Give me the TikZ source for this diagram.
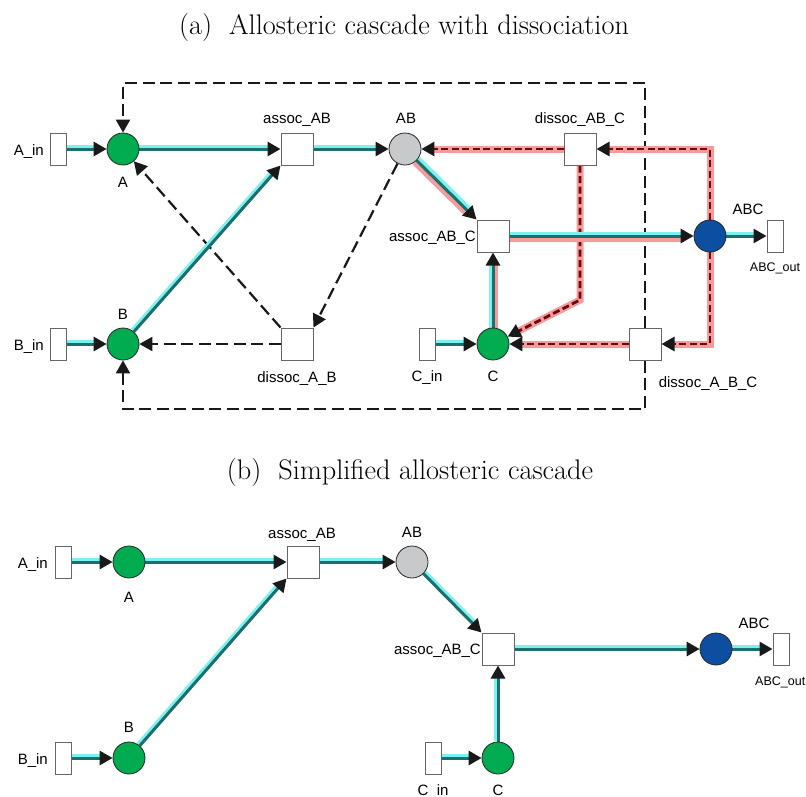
\documentclass[tikz,border=0pt]{standalone}
\usepackage{fontspec}
\setsansfont{Liberation Sans}
\usetikzlibrary{arrows.meta}
\definecolor{placegreen}{HTML}{00AC4F}
\definecolor{placegray}{HTML}{C8C9CB}
\definecolor{placeblue}{HTML}{0C4FA0}
\definecolor{tealline}{HTML}{1C6F6C}
\definecolor{cyanglow}{HTML}{7CF2F0}
\definecolor{pinkglow}{HTML}{F59B9B}
\definecolor{darkred}{HTML}{6E0A0A}
\pgfdeclarelayer{bg}
\pgfsetlayers{bg,main}
% flow arc: teal line on a cyan glow, shifted by #1
\newcommand\flowarc[2][{(-1pt,1pt)}]{%
  \draw[cyanhalo,transform canvas={shift={#1}}] #2;
  \draw[tealflow] #2;}
% dissociation arc: dark red dashes on a pink glow
\newcommand\redarc[1]{%
  \draw[redhalo] #1;
  \draw[reddash] #1;}
\begin{document}
\begin{tikzpicture}[x=1pt,y=-1pt,
  place/.style={circle,draw=black!85,line width=0.8pt,minimum size=32pt,inner sep=0pt},
  trans/.style={rectangle,draw=black!60,fill=white,line width=1pt,minimum size=32pt,inner sep=0pt},
  bnd/.style={rectangle,draw=black!60,fill=white,line width=1pt,minimum width=16pt,minimum height=32pt,inner sep=0pt},
  lbl/.style={font=\sffamily\fontsize{15}{17}\selectfont,inner sep=0pt,anchor=base},
  slbl/.style={font=\sffamily\fontsize{12.5}{14}\selectfont,inner sep=0pt,anchor=base},
  ttl/.style={font=\fontsize{28.3}{33}\selectfont,inner sep=0pt,anchor=base},
  tip/.style={-{Triangle[length=13pt,width=14pt,color=black!90]}},
  tealflow/.style={draw=tealline,line width=3pt,tip},
  cyanhalo/.style={draw=cyanglow,line width=5.5pt,shorten >=10pt},
  redhalo/.style={draw=pinkglow,line width=7pt,shorten >=10pt},
  reddash/.style={draw=darkred,line width=2.8pt,dash pattern=on 7pt off 3.5pt,tip},
  blackdash/.style={draw=black!90,line width=2.2pt,dash pattern=on 12pt off 5.5pt,tip},
]
\useasboundingbox (0,0) rectangle (806,796);

% ---------------- (a) ----------------
\node[ttl] (titleA) at (404,34) {(a)\ \ Allosteric cascade with dissociation};

\node[bnd] (Ain) at (58,149) {};
\node[place,fill=placegreen] (A) at (123,149) {};
\node[trans] (aAB) at (297,149) {};
\node[place,fill=placegray] (AB) at (405,149) {};
\node[trans] (dABc) at (580,149) {};
\node[trans] (aABC) at (493,236) {};
\node[place,fill=placeblue] (ABC) at (710,236) {};
\node[bnd] (ABCout) at (775,236) {};
\node[bnd] (Bin) at (58,344) {};
\node[place,fill=placegreen] (B) at (123,344) {};
\node[trans] (dAB) at (297,344) {};
\node[bnd] (Cin) at (427,344) {};
\node[place,fill=placegreen] (C) at (493,344) {};
\node[trans] (dABC) at (645,344) {};
\coordinate (loopT) at (645,83);
\coordinate (loopB) at (645,409);
\coordinate (bendC) at (580,300);

\node[lbl,anchor=base east] (lAin) at (44,155) {A\_in};
\node[lbl] (lA) at (123,187) {A};
\node[lbl] (laAB) at (297,123) {assoc\_AB};
\node[lbl] (lAB) at (406,123) {AB};
\node[lbl] (ldABc) at (580,123) {dissoc\_AB\_C};
\node[lbl,anchor=base east] (laABC) at (476,241) {assoc\_AB\_C};
\node[lbl] (lABC) at (748,214) {ABC};
\node[slbl] (lABCout) at (775,271) {ABC\_out};
\node[lbl,anchor=base east] (lBin) at (44,350) {B\_in};
\node[lbl] (lB) at (123,319) {B};
\node[lbl] (ldAB) at (297,382) {dissoc\_A\_B};
\node[lbl] (lCin) at (427,381) {C\_in};
\node[lbl] (lC) at (493,381) {C};
\node[lbl] (ldABC) at (708,387) {dissoc\_A\_B\_C};

\begin{pgfonlayer}{bg}
  % dissociation feedback back to the inputs
  \draw[blackdash] (dABC) -- (loopT) -| (A);
  \draw[blackdash] (dABC) -- (loopB) -| (B);
  \draw[blackdash] (AB) -- (dAB.north east);
  \draw[blackdash] (dAB.north west) -- (A);
  \draw[blackdash] (dAB) -- (B);
  % red dissociation arcs
  \redarc{(ABC) |- (dABc)}
  \redarc{(dABc) -- (AB)}
  \redarc{(dABc) -- (bendC) -- (C)}
  \redarc{(ABC) |- (dABC)}
  \redarc{(dABC) -- (C)}
  % association arcs
  \flowarc{(Ain) -- (A)}
  \flowarc{(Bin) -- (B)}
  \flowarc{(Cin) -- (C)}
  \flowarc{(A) -- (aAB)}
  \flowarc{(B) -- (aAB.south west)}
  \flowarc{(aAB) -- (AB)}
  \draw[redhalo,transform canvas={shift={(-1.5pt,-1.5pt)}}] (AB) -- (aABC.north west);
  \flowarc[{(1.5pt,1.5pt)}]{(AB) -- (aABC.north west)}
  \draw[redhalo,transform canvas={shift={(1.5pt,0pt)}}] (C) -- (aABC);
  \flowarc[{(-1.5pt,0pt)}]{(C) -- (aABC)}
  \draw[redhalo,transform canvas={shift={(0pt,-2pt)}}] (aABC) -- (ABC);
  \flowarc[{(0pt,1.5pt)}]{(aABC) -- (ABC)}
  \flowarc{(ABC) -- (ABCout)}
\end{pgfonlayer}

% ---------------- (b) ----------------
\node[ttl] (titleB) at (410,479) {(b)\ \ Simplified allosteric cascade};

\node[bnd] (Ain2) at (63,562) {};
\node[place,fill=placegreen] (A2) at (129,562) {};
\node[trans] (aAB2) at (303,562) {};
\node[place,fill=placegray] (AB2) at (412,562) {};
\node[trans] (aABC2) at (498,649) {};
\node[place,fill=placeblue] (ABC2) at (716,649) {};
\node[bnd] (ABCout2) at (781,649) {};
\node[bnd] (Bin2) at (63,758) {};
\node[place,fill=placegreen] (B2) at (129,758) {};
\node[bnd] (Cin2) at (433,758) {};
\node[place,fill=placegreen] (C2) at (498,758) {};

\node[lbl,anchor=base east] (lAin2) at (48,568) {A\_in};
\node[lbl] (lA2) at (129,602) {A};
\node[lbl] (laAB2) at (302,538) {assoc\_AB};
\node[lbl] (lAB2) at (412,537) {AB};
\node[lbl,anchor=base east] (laABC2) at (481,654) {assoc\_AB\_C};
\node[lbl] (lABC2) at (754,628) {ABC};
\node[slbl,anchor=base west] (lABCout2) at (755,685) {ABC\_out};
\node[lbl,anchor=base east] (lBin2) at (48,764) {B\_in};
\node[lbl] (lB2) at (129,732) {B};
\node[lbl] (lCin2) at (433,795) {C\_in};
\node[lbl] (lC2) at (498,795) {C};

\begin{pgfonlayer}{bg}
  \flowarc{(Ain2) -- (A2)}
  \flowarc{(Bin2) -- (B2)}
  \flowarc{(Cin2) -- (C2)}
  \flowarc{(A2) -- (aAB2)}
  \flowarc{(B2) -- (aAB2.south west)}
  \flowarc{(aAB2) -- (AB2)}
  \flowarc[{(1pt,1pt)}]{(AB2) -- (aABC2.north west)}
  \flowarc{(C2) -- (aABC2)}
  \flowarc{(aABC2) -- (ABC2)}
  \flowarc{(ABC2) -- (ABCout2)}
\end{pgfonlayer}
\end{tikzpicture}
\end{document}
